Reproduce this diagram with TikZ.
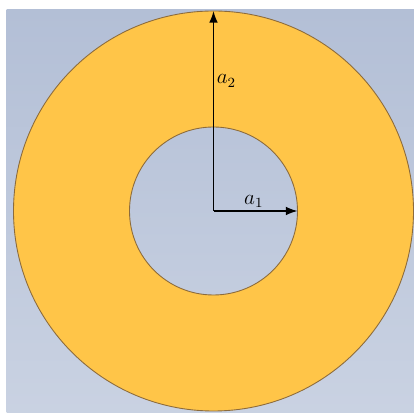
\documentclass[tikz,border=0pt]{standalone}
\usepackage{tikz}
\usetikzlibrary{arrows.meta, positioning}
\usetikzlibrary{calc}
\definecolor{fondo}{HTML}{C0CADD}
\definecolor{fondoalto}{HTML}{B3BFD6}
\definecolor{oro}{HTML}{FFC548}
\definecolor{borde}{HTML}{8C6B3C}

\begin{document}
\begin{tikzpicture}[
      r/.style={-Latex, thick, black},
      lab/.style={inner sep=1.5pt, font=\large}]
    \useasboundingbox (0,0) rectangle (8.28,8.26);
    \fill[white] (0,0) rectangle (8.28,8.26);
    \shade[top color=fondoalto, bottom color=fondo!85!white] (0.13,0) rectangle (8.28,8.06);
    \coordinate (o) at (4.27,4.04);
    \fill[oro, draw=borde, line width=0.5pt, even odd rule] (o) circle (4.0) (o) circle (1.68);
    \coordinate (a2e) at ($(o)+(0,4.0)$);
    \coordinate (a1e) at ($(o)+(1.68,0)$);
    \draw[r] (o) -- (a2e) node[lab, pos=0.65, right] (l2) {$a_2$};
    \draw[r] (o) -- (a1e) node[lab, pos=0.48, above] (l1) {$a_1$};
  \end{tikzpicture}
\end{document}
